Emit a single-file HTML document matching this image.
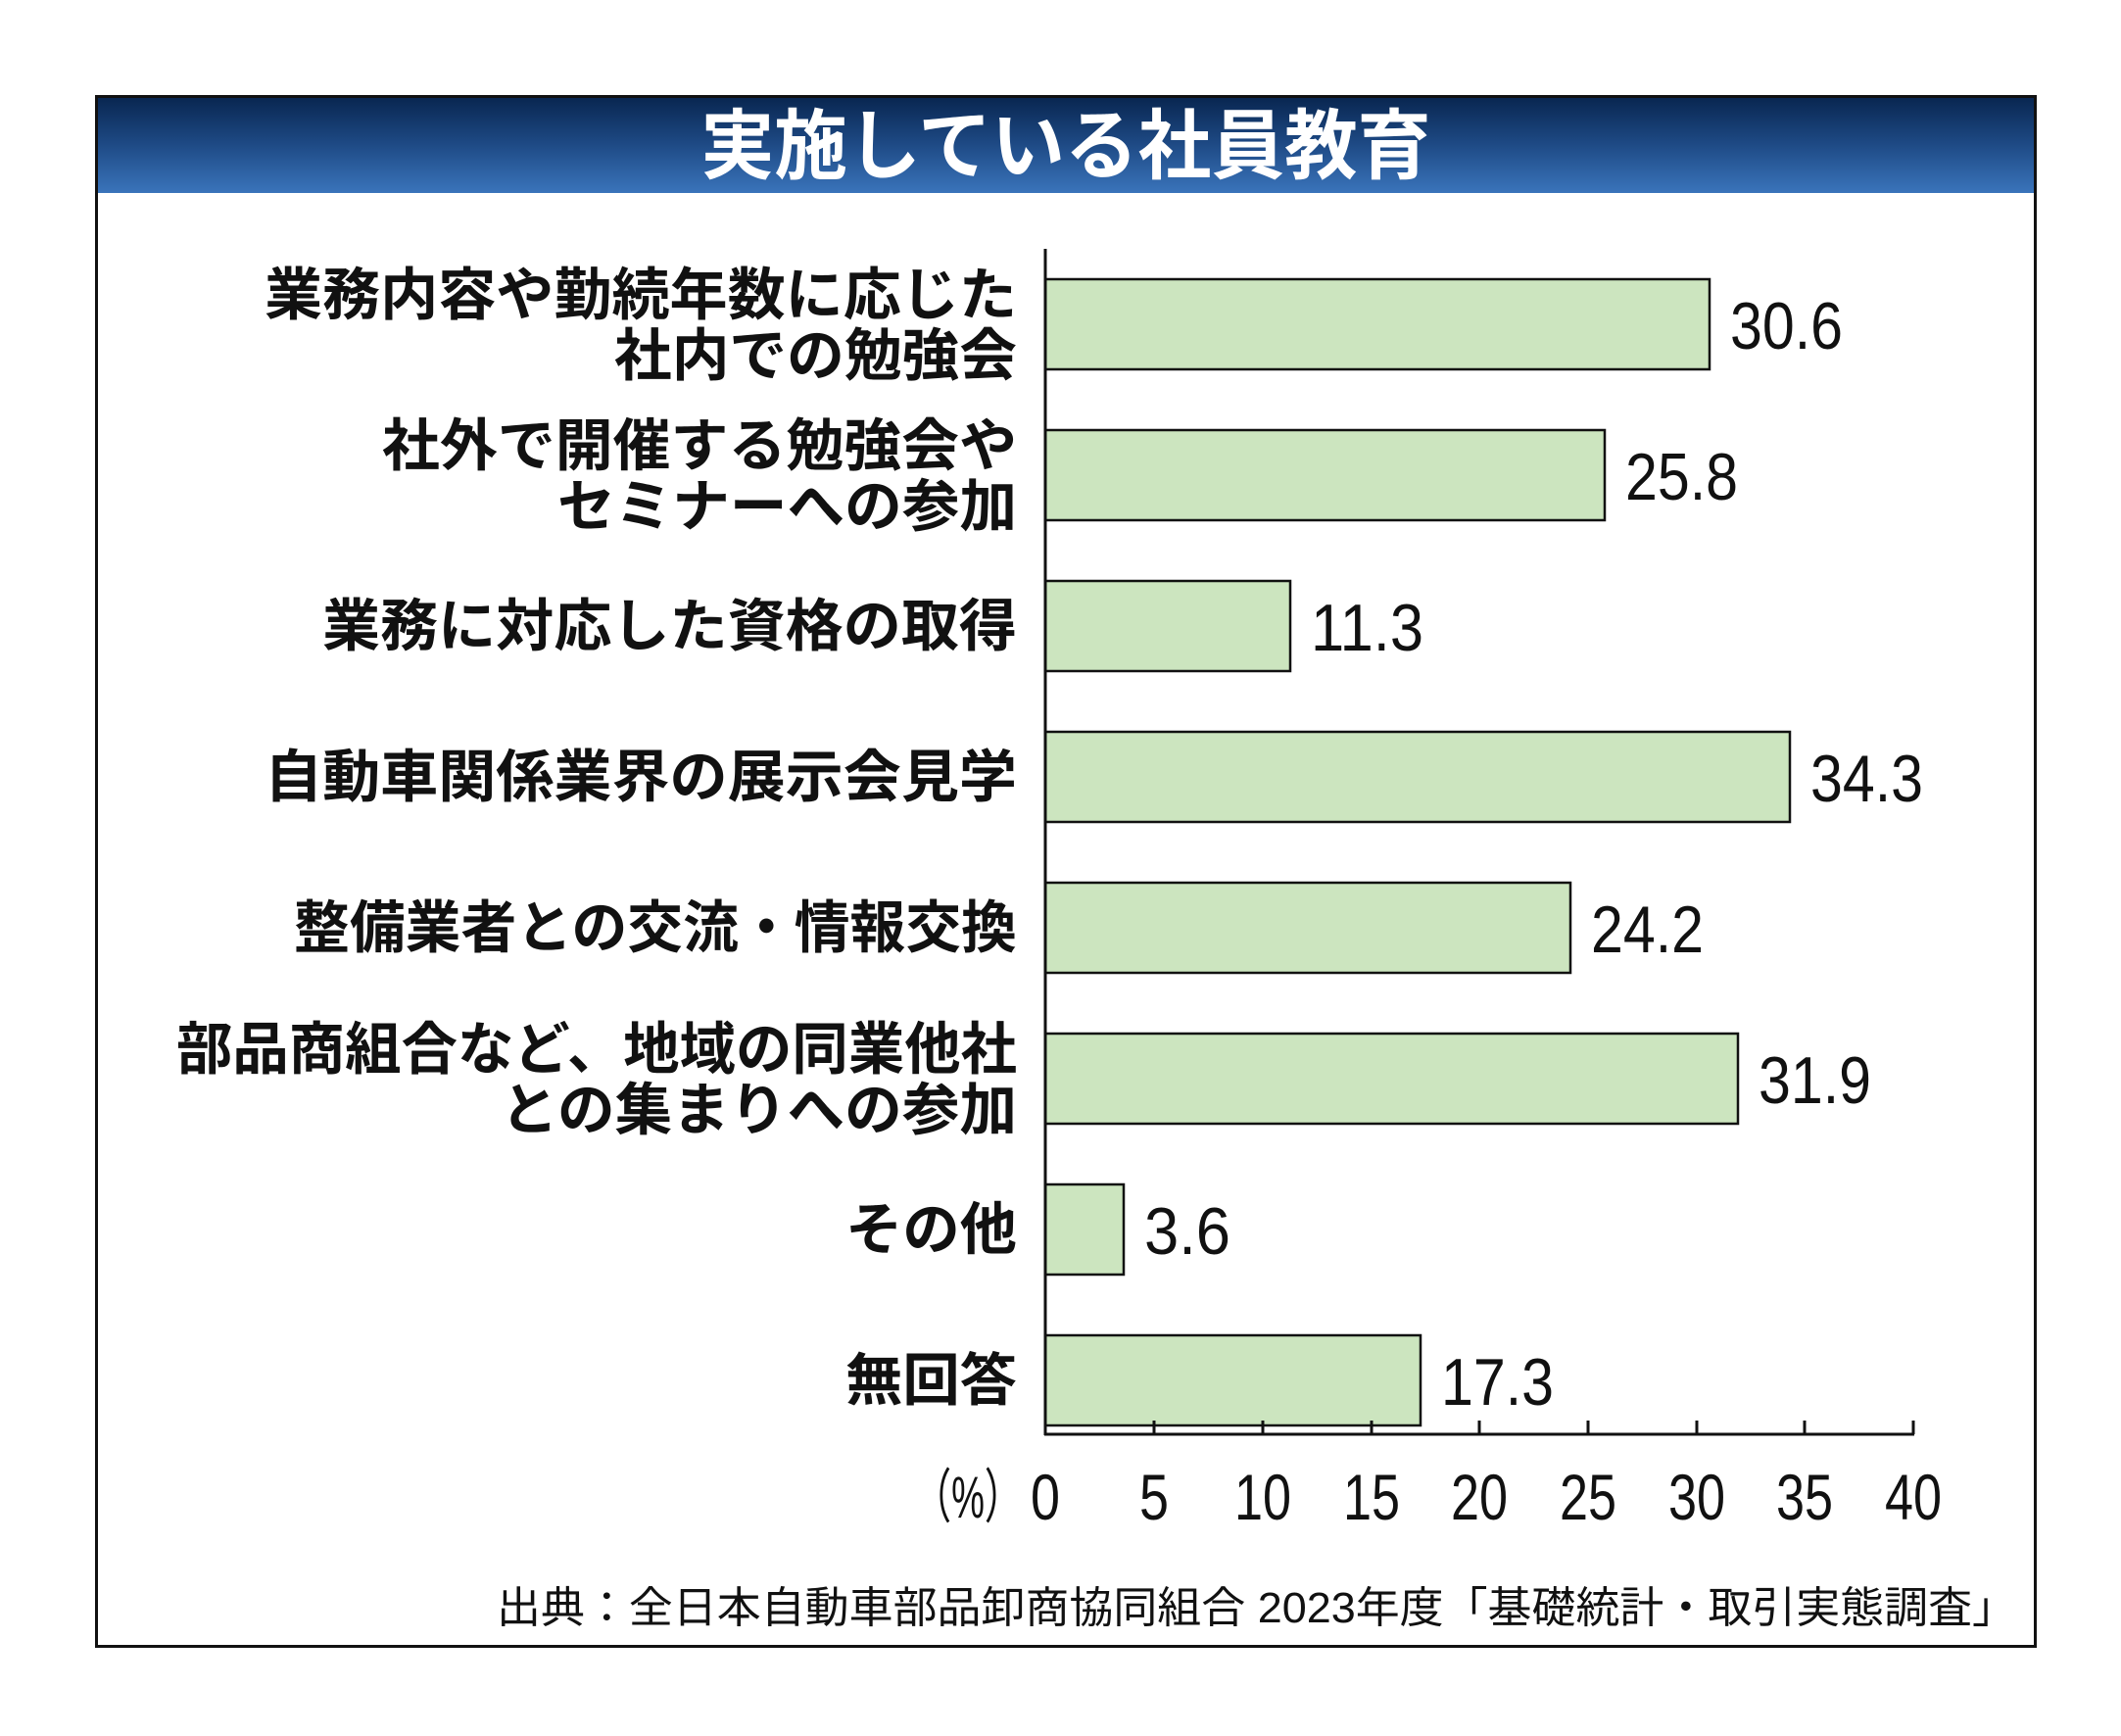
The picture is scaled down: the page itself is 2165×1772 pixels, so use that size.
<!DOCTYPE html>
<html><head><meta charset="utf-8"><style>
html,body{margin:0;padding:0;background:#fff;}
svg{display:block;}
</style></head><body>
<svg width="2165" height="1772" viewBox="0 0 2165 1772" xmlns="http://www.w3.org/2000/svg">
<defs>
<linearGradient id="hg" x1="0" y1="0" x2="0" y2="1">
<stop offset="0" stop-color="#08254f"/>
<stop offset="0.5" stop-color="#1e4a85"/>
<stop offset="1" stop-color="#3a74bb"/>
</linearGradient>
</defs>
<rect x="0" y="0" width="2165" height="1772" fill="#fff"/>
<rect x="98" y="98" width="1980" height="99" fill="url(#hg)"/>
<rect x="98.5" y="98.5" width="1979" height="1582" fill="none" stroke="#111" stroke-width="3"/>
<text x="1088" y="176" text-anchor="middle" font-family="Liberation Sans, Noto Sans CJK JP, sans-serif" font-weight="bold" font-size="78" fill="#fff" textLength="745" lengthAdjust="spacingAndGlyphs">実施している社員教育</text>

<g fill="#cce5bf" stroke="#111" stroke-width="2.5">
<rect x="1067" y="285" width="678" height="92"/>
<rect x="1067" y="439" width="571" height="92"/>
<rect x="1067" y="593" width="250" height="92"/>
<rect x="1067" y="747" width="760" height="92"/>
<rect x="1067" y="901" width="536" height="92"/>
<rect x="1067" y="1055" width="707" height="92"/>
<rect x="1067" y="1209" width="80" height="92"/>
<rect x="1067" y="1363" width="383" height="92"/>
</g>

<g stroke="#111" stroke-width="3" fill="none">
<line x1="1067" y1="254" x2="1067" y2="1465"/>
<line x1="1066" y1="1464" x2="1954" y2="1464"/>
<line x1="1178" y1="1450" x2="1178" y2="1464"/>
<line x1="1289" y1="1450" x2="1289" y2="1464"/>
<line x1="1400" y1="1450" x2="1400" y2="1464"/>
<line x1="1510" y1="1450" x2="1510" y2="1464"/>
<line x1="1621" y1="1450" x2="1621" y2="1464"/>
<line x1="1732" y1="1450" x2="1732" y2="1464"/>
<line x1="1842" y1="1450" x2="1842" y2="1464"/>
<line x1="1953" y1="1450" x2="1953" y2="1464"/>
</g>

<g font-family="Liberation Sans, Noto Sans CJK JP, sans-serif" font-size="68" fill="#111">
<text x="1766" y="356" textLength="115" lengthAdjust="spacingAndGlyphs">30.6</text>
<text x="1659" y="510" textLength="115" lengthAdjust="spacingAndGlyphs">25.8</text>
<text x="1338" y="664" textLength="115" lengthAdjust="spacingAndGlyphs">11.3</text>
<text x="1848" y="818" textLength="115" lengthAdjust="spacingAndGlyphs">34.3</text>
<text x="1624" y="972" textLength="115" lengthAdjust="spacingAndGlyphs">24.2</text>
<text x="1795" y="1126" textLength="115" lengthAdjust="spacingAndGlyphs">31.9</text>
<text x="1168" y="1280" textLength="88" lengthAdjust="spacingAndGlyphs">3.6</text>
<text x="1471" y="1434" textLength="115" lengthAdjust="spacingAndGlyphs">17.3</text>
</g>

<g font-family="Liberation Sans, Noto Sans CJK JP, sans-serif" font-size="66" fill="#111" text-anchor="middle">
<text x="1067" y="1551" textLength="30" lengthAdjust="spacingAndGlyphs">0</text>
<text x="1178" y="1551" textLength="30" lengthAdjust="spacingAndGlyphs">5</text>
<text x="1289" y="1551" textLength="58" lengthAdjust="spacingAndGlyphs">10</text>
<text x="1400" y="1551" textLength="58" lengthAdjust="spacingAndGlyphs">15</text>
<text x="1510" y="1551" textLength="58" lengthAdjust="spacingAndGlyphs">20</text>
<text x="1621" y="1551" textLength="58" lengthAdjust="spacingAndGlyphs">25</text>
<text x="1732" y="1551" textLength="58" lengthAdjust="spacingAndGlyphs">30</text>
<text x="1842" y="1551" textLength="58" lengthAdjust="spacingAndGlyphs">35</text>
<text x="1953" y="1551" textLength="58" lengthAdjust="spacingAndGlyphs">40</text>
</g>
<text x="933" y="1549" font-family="Liberation Sans, Noto Sans CJK JP, sans-serif" font-size="60" fill="#111" textLength="110" lengthAdjust="spacingAndGlyphs">（%）</text>

<g font-family="Liberation Sans, Noto Sans CJK JP, sans-serif" font-size="58" font-weight="bold" fill="#111" text-anchor="end" lengthAdjust="spacingAndGlyphs">
<text x="1038" y="321" textLength="768" lengthAdjust="spacingAndGlyphs">業務内容や勤続年数に応じた</text>
<text x="1038" y="383" textLength="411" lengthAdjust="spacingAndGlyphs">社内での勉強会</text>
<text x="1038" y="475" textLength="648" lengthAdjust="spacingAndGlyphs">社外で開催する勉強会や</text>
<text x="1038" y="537" textLength="469" lengthAdjust="spacingAndGlyphs">セミナーへの参加</text>
<text x="1038" y="659" textLength="709" lengthAdjust="spacingAndGlyphs">業務に対応した資格の取得</text>
<text x="1038" y="813" textLength="768" lengthAdjust="spacingAndGlyphs">自動車関係業界の展示会見学</text>
<text x="1038" y="967" textLength="738" lengthAdjust="spacingAndGlyphs">整備業者との交流・情報交換</text>
<text x="1038" y="1091" textLength="858" lengthAdjust="spacingAndGlyphs">部品商組合など、地域の同業他社</text>
<text x="1038" y="1153" textLength="527" lengthAdjust="spacingAndGlyphs">との集まりへの参加</text>
<text x="1038" y="1275" textLength="175" lengthAdjust="spacingAndGlyphs">その他</text>
<text x="1038" y="1429" textLength="175" lengthAdjust="spacingAndGlyphs">無回答</text>
</g>

<text x="2058" y="1656" text-anchor="end" font-family="Liberation Sans, Noto Sans CJK JP, sans-serif" font-size="44" fill="#111" textLength="1551" lengthAdjust="spacingAndGlyphs">出典：全日本自動車部品卸商協同組合  2023年度「基礎統計・取引実態調査」</text>
</svg>
</body></html>
